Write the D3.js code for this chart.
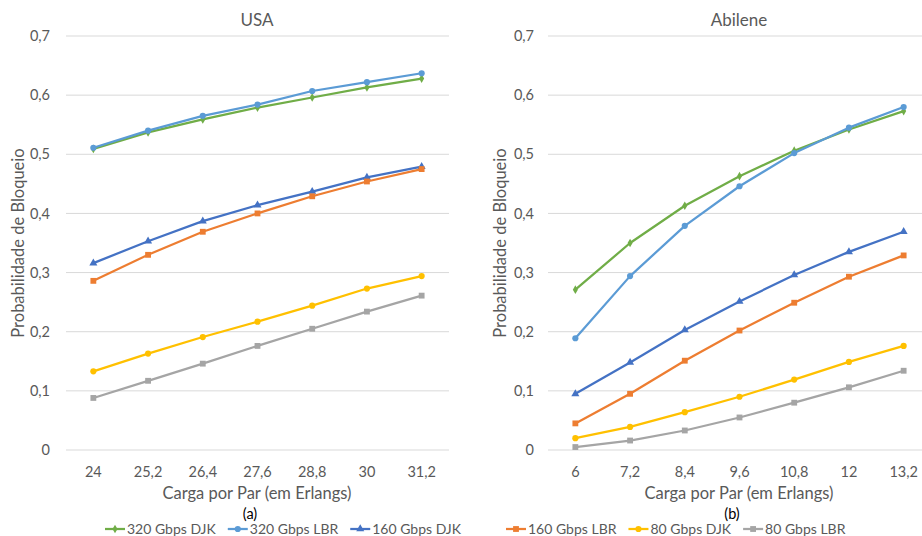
<!DOCTYPE html>
<html>
<head>
<meta charset="utf-8">
<script src="https://cdn.jsdelivr.net/npm/d3@7"></script>
<style>
  body { margin: 0; background: #fff; }
  text { font-family: Lato, "Open Sans", sans-serif; fill: #595959; }
</style>
</head>
<body>
<div id="chart"></div>
<script>
var width = 922, height = 536;

// data
var seriesNames = ["320 Gbps DJK", "320 Gbps LBR", "160 Gbps DJK", "160 Gbps LBR", "80 Gbps DJK", "80 Gbps LBR"];
var usaLoads = ["24", "25,2", "26,4", "27,6", "28,8", "30", "31,2"];
var abileneLoads = ["6", "7,2", "8,4", "9,6", "10,8", "12", "13,2"];
var usa320DJK = [0.509, 0.537, 0.559, 0.579, 0.596, 0.613, 0.628];
var usa320LBR = [0.511, 0.540, 0.565, 0.584, 0.607, 0.622, 0.637];
var usa160DJK = [0.316, 0.353, 0.387, 0.414, 0.437, 0.461, 0.479];
var usa160LBR = [0.286, 0.330, 0.369, 0.400, 0.429, 0.454, 0.475];
var usa80DJK = [0.133, 0.163, 0.191, 0.217, 0.244, 0.273, 0.294];
var usa80LBR = [0.088, 0.117, 0.146, 0.176, 0.205, 0.234, 0.261];
var abi320DJK = [0.271, 0.350, 0.413, 0.463, 0.506, 0.542, 0.573];
var abi320LBR = [0.189, 0.294, 0.379, 0.446, 0.502, 0.545, 0.580];
var abi160DJK = [0.095, 0.148, 0.203, 0.251, 0.296, 0.335, 0.369];
var abi160LBR = [0.045, 0.095, 0.151, 0.202, 0.249, 0.293, 0.329];
var abi80DJK = [0.020, 0.039, 0.064, 0.090, 0.119, 0.149, 0.176];
var abi80LBR = [0.005, 0.016, 0.033, 0.055, 0.080, 0.106, 0.134];
var yTicks = [0, 0.1, 0.2, 0.3, 0.4, 0.5, 0.6, 0.7];

var colors = ["#70AD47", "#5B9BD5", "#4472C4", "#ED7D31", "#FFC000", "#A5A5A5"];
var symbols = [d3.symbolDiamond, d3.symbolCircle, d3.symbolTriangle, d3.symbolSquare, d3.symbolCircle, d3.symbolSquare];
var symSizes = [22, 30, 28, 34, 30, 34];

var svg = d3.select("#chart").append("svg")
  .attr("width", width)
  .attr("height", height);

var y = d3.scaleLinear().domain([0, 0.7]).range([450, 36]);
var fmt = function(v) { return v === 0 ? "0" : d3.format(".1f")(v).replace(".", ","); };

function drawPanel(title, sub, cats, series, x0, yTitleX, tickEnd) {
  var x = d3.scalePoint().domain(cats).range([x0, x0 + 383]).padding(0.5);
  var g = svg.append("g");

  // gridlines
  g.selectAll(".grid").data(yTicks).enter().append("line")
    .attr("x1", x0).attr("x2", x0 + 383)
    .attr("y1", function(d) { return y(d); })
    .attr("y2", function(d) { return y(d); })
    .attr("stroke", "#d9d9d9").attr("stroke-width", 1);

  g.selectAll(".ytick").data(yTicks).enter().append("text")
    .attr("x", tickEnd)
    .attr("y", function(d) { return y(d); })
    .attr("dy", "0.35em")
    .attr("text-anchor", "end")
    .style("font-size", "14.5px")
    .text(fmt);

  g.selectAll(".xtick").data(cats).enter().append("text")
    .attr("x", function(d) { return x(d); })
    .attr("y", 477)
    .attr("text-anchor", "middle")
    .style("font-size", "14.5px")
    .text(function(d) { return d; });

  g.append("text")
    .attr("x", x0 + 191).attr("y", 26)
    .attr("text-anchor", "middle")
    .style("font-size", "17px")
    .text(title);

  g.append("text")
    .attr("transform", "translate(" + yTitleX + ",243) rotate(-90)")
    .attr("text-anchor", "middle")
    .attr("dy", "0.35em")
    .style("font-size", "16.5px")
    .text("Probabilidade de Bloqueio");

  g.append("text")
    .attr("x", x0 + 191).attr("y", 499)
    .attr("text-anchor", "middle")
    .style("font-size", "16.5px")
    .text("Carga por Par (em Erlangs)");

  g.append("text")
    .attr("x", x0 + 184).attr("y", 519)
    .attr("text-anchor", "middle")
    .style("font-size", "14.5px")
    .style("fill", "#000")
    .text(sub);

  var line = d3.line()
    .x(function(d, i) { return x(cats[i]); })
    .y(function(d) { return y(d); });

  series.forEach(function(vals, k) {
    g.append("path")
      .attr("d", line(vals))
      .attr("fill", "none")
      .attr("stroke", colors[k])
      .attr("stroke-width", 2.25)
      .attr("stroke-linejoin", "round");
    g.selectAll(".m" + k).data(vals).enter().append("path")
      .attr("d", d3.symbol().type(symbols[k]).size(symSizes[k]))
      .attr("transform", function(d, i) { return "translate(" + x(cats[i]) + "," + y(d) + ")"; })
      .attr("fill", colors[k]);
  });
}

drawPanel("USA", "(a)", usaLoads,
  [usa320DJK, usa320LBR, usa160DJK, usa160LBR, usa80DJK, usa80LBR], 66, 18, 50);
drawPanel("Abilene", "(b)", abileneLoads,
  [abi320DJK, abi320LBR, abi160DJK, abi160LBR, abi80DJK, abi80LBR], 548, 500, 534);

// legend, two groups of three
var groupStart = [105, 506];
var legend = svg.append("g");
[0, 1].forEach(function(gi) {
  var cx = groupStart[gi];
  for (var k = gi * 3; k < gi * 3 + 3; k++) {
    var item = legend.append("g").attr("transform", "translate(" + cx + ",529)");
    item.append("line").attr("x1", 0).attr("x2", 20)
      .attr("stroke", colors[k]).attr("stroke-width", 2.25);
    item.append("path").attr("transform", "translate(10,0)")
      .attr("d", d3.symbol().type(symbols[k]).size(symSizes[k]))
      .attr("fill", colors[k]);
    var t = item.append("text").attr("x", 22).attr("dy", "0.35em")
      .style("font-size", "14px").text(seriesNames[k]);
    cx += 22 + t.node().getComputedTextLength() + 12;
  }
});
</script>
</body>
</html>
